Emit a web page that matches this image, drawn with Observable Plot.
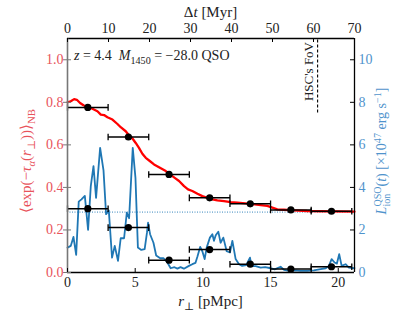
<!DOCTYPE html>
<html><head><meta charset="utf-8">
<script src="https://cdn.jsdelivr.net/npm/d3@7"></script>
<script src="https://cdn.jsdelivr.net/npm/@observablehq/plot@0.6"></script>
<style>body{margin:0;background:#fff} svg text{font-family:'Liberation Serif','DejaVu Serif',serif !important;}</style>
</head><body><div id="chart"></div>
<script>
const F = "'Liberation Serif', 'DejaVu Serif', serif";
// x: r_perp [pMpc]; top axis Δt [Myr]
const XMAX = 21.2, TMAX = 70;
const xTicks = [0, 5, 10, 15, 20];
const tTicks = [0, 10, 20, 30, 40, 50, 60, 70];
const yTicks = [0, 0.2, 0.4, 0.6, 0.8, 1.0];
const lTicks = [0, 2, 4, 6, 8, 10];

// red: transmission curve
const redR = [0,0.24,0.49,0.69,0.93,1.18,1.52,1.84,2.21,2.46,2.7,2.95,3.32,3.69,3.93,4.3,4.55,4.8,5.04,5.28,5.53,5.78,6.1,6.39,6.76,7.26,7.57,7.92,8.24,8.61,8.9,9.22,9.6,9.96,10.33,10.7,11.07,11.56,12.05,12.55,13.53,14.27,14.76,15.13,15.5,15.99,16.72,17.71,18.7,21.2];
const redV = [.80,.805,.815,.812,.797,.786,.776,.770,.758,.742,.740,.73,.719,.698,.683,.664,.644,.63,.609,.586,.558,.539,.523,.508,.495,.477,.461,.445,.43,.406,.391,.383,.37,.359,.351,.344,.339,.336,.331,.328,.323,.317,.313,.305,.297,.295,.292,.289,.288,.286];

// blue: QSO ionizing luminosity [1e47 erg/s]
const blueR = [0,0.24,0.44,0.64,0.83,1.03,1.28,1.52,1.72,1.92,2.11,2.41,2.66,2.85,3.05,3.29,3.49,3.73,3.93,4.18,4.38,4.55,4.82,5.02,5.2,5.45,5.7,5.87,5.95,6.1,6.35,6.55,6.85,7.1,7.38,7.62,7.9,8.12,8.35,8.6,8.97,9.22,9.45,9.6,9.8,9.96,10.13,10.28,10.52,10.7,10.82,10.95,11.14,11.31,11.51,11.76,12.0,12.18,12.42,12.67,12.9,13.2,13.48,13.6,13.9,14.27,14.6,15.0,15.3,15.74,16.0,16.35,16.8,17.2,17.71,18.2,18.7,19.07,19.31,19.51,19.73,19.9,20.07,20.25,20.54,20.79,21.2];
const blueL = [1.17,1.25,1.67,0.83,3.33,3.44,3.6,2.0,4.06,5.0,3.51,5.86,4.8,2.74,2.92,0.7,1.25,0.55,1.61,1.61,2.81,2.55,5.86,4.45,1.17,1.06,1.10,1.87,2.34,1.8,1.4,0.8,0.67,0.67,0.47,0.2,0.25,0.18,0.25,0.18,0.31,0.39,0.45,0.75,1.2,1.0,0.63,1.17,1.64,1.8,1.49,1.75,1.92,1.4,1.64,1.0,0.94,1.49,0.63,0.39,0.31,0.35,0.7,0.3,0.3,0.23,0.25,0.2,0.15,0.27,0.12,0.08,0.1,0.08,0.08,0.1,0.16,0.2,0.31,0.63,0.47,0.42,0.86,0.31,0.39,0.23,0.2];

// binned points
const binR = [1.5, 4.5, 7.5, 10.5, 13.5, 16.5, 19.5];
const binHalf = 1.5;
const binT = [0.776, 0.637, 0.461, 0.351, 0.323, 0.294, 0.288];
const binL = [3.0, 2.11, 0.58, 1.08, 0.39, 0.16, 0.27];

const meanT = 0.284;
const fovT = 61; // Myr
const fovTop = 1.1, fovBottom = 0.75;

const toR = t => t * XMAX / TMAX;
const red = redR.map((r, i) => ({r, v: redV[i]}));
const blue = blueR.map((r, i) => ({r, L: blueL[i] / 10}));
const pts = binR.map((r, i) => ({r, t: binT[i], L: binL[i] / 10}));
const ptsAll = pts.flatMap(d => [{r: d.r, y: d.t}, {r: d.r, y: d.L}]);
const caps = ptsAll.flatMap(d => [{r: d.r - binHalf, y: d.y}, {r: d.r + binHalf, y: d.y}]);
const capSym = {draw(ctx, size) { const h = Math.sqrt(size / Math.PI); ctx.moveTo(0, -h); ctx.lineTo(0, h); }};

const REDTXT = "#e8535b", BLUETXT = "#4f93cc";
const W = 394, H = 313, ML = 67, MR = 40, MT = 38, MB = 41;
const PW = W - ML - MR, PH = H - MT - MB;

const plot = Plot.plot({
  width: W, height: H, marginLeft: ML, marginRight: MR, marginTop: MT, marginBottom: MB,
  style: {fontFamily: F, fontSize: "13px", background: "#fff", overflow: "visible"},
  x: {domain: [0, XMAX]},
  y: {domain: [0, 1.1]},
  marks: [
    Plot.ruleY([meanT], {stroke: "#1f77b4", strokeDasharray: "1,1.5", strokeWidth: 0.9}),
    Plot.line(blue, {x: "r", y: "L", stroke: "#1f77b4", strokeWidth: 1.8}),
    Plot.line(red, {x: "r", y: "v", stroke: "#ff0000", strokeWidth: 2.3}),
    Plot.ruleX([toR(fovT)], {y1: fovBottom, y2: fovTop, stroke: "#000", strokeDasharray: "3,2", strokeWidth: 1.1}),
    Plot.link(ptsAll, {x1: d => Math.max(0, d.r - binHalf), x2: d => d.r + binHalf, y1: "y", y2: "y", stroke: "#000", strokeWidth: 1.5}),
    Plot.dot(caps, {x: "r", y: "y", r: 3.3, symbol: capSym, stroke: "#000", strokeWidth: 1.3, fill: "none"}),
    Plot.dot(ptsAll, {x: "r", y: "y", r: 3.6, fill: "#000"}),
    // frame
    Plot.ruleY([0, 1.1], {stroke: "#000", strokeWidth: 1.3}),
    Plot.ruleX([XMAX], {stroke: "#000", strokeWidth: 1.3}),
    Plot.ruleX([0], {stroke: "#777", strokeWidth: 1.6}),
    // inward ticks
    Plot.ruleY(yTicks, {insetRight: PW - 4, insetLeft: -4, stroke: "#777", strokeWidth: 1}),
    Plot.ruleY(lTicks.map(d => d / 10), {insetLeft: PW - 4, stroke: "#000", strokeWidth: 1}),
    Plot.ruleX(xTicks, {insetTop: PH - 4, stroke: "#000", strokeWidth: 1}),
    Plot.ruleX(tTicks.map(toR), {insetBottom: PH - 4, stroke: "#000", strokeWidth: 1}),
    // axis labels
    Plot.axisX({ticks: xTicks, tickSize: 0, tickPadding: 5, label: null, fontSize: 14, fill: "#222"}),
    Plot.axisX({anchor: "top", ticks: tTicks.map(toR), tickFormat: d => String(Math.round(d * TMAX / XMAX)), tickSize: 0, tickPadding: 6, label: null, fontSize: 14, fill: "#222"}),
    Plot.axisY({ticks: yTicks, tickFormat: d => d.toFixed(1), tickSize: 0, tickPadding: 4, label: null, color: REDTXT, fontSize: 14}),
    Plot.axisY({anchor: "right", ticks: lTicks.map(d => d / 10), tickFormat: d => String(Math.round(d * 10)), tickSize: 0, tickPadding: 4, label: null, color: BLUETXT, fontSize: 14})
  ]
});
document.getElementById("chart").appendChild(plot);

const svg = d3.select(plot);
function addText(x, y, parts, opt = {}) {
  const t = svg.append("text")
    .attr("font-family", F).attr("font-size", opt.size || 14)
    .attr("fill", opt.fill || "#222")
    .attr("text-anchor", opt.anchor || "middle")
    .attr("transform", `translate(${x},${y})` + (opt.rotate ? ` rotate(${opt.rotate})` : ""));
  let shift = 0;
  let lastW = 0;
  for (const p of parts) {
    const [s, st] = typeof p === "string" ? [p, ""] : p;
    const ts = t.append("tspan").text(s);
    let target = 0, fs = null;
    if (st.includes("sub")) { target = 3.5; fs = 0.72; }
    if (st.includes("sup")) { target = -5.5; fs = 0.72; }
    if (fs) ts.attr("font-size", (opt.size || 14) * fs);
    if (st.includes("i")) ts.attr("font-style", "italic");
    ts.attr("dy", target - shift);
    if (st.includes("back")) ts.attr("dx", -lastW);
    shift = target;
    lastW = ts.node().getComputedTextLength();
  }
  return t;
}

// top label
addText(ML + PW / 2, 17, ["Δ", ["t", "i"], " [Myr]"], {size: 15});
// bottom label
addText(ML + PW / 2, 306, [["r", "i"], ["⊥", "sub"], " [pMpc]"], {size: 15});
// left label
addText(31, MT + PH / 2 + 6, ["⟨exp(−", ["τ", "i"], ["α", "isub"], "(", ["r", "i"], ["⊥", "sub"], "))⟩", ["NB", "sub"]], {size: 15, rotate: -90, fill: REDTXT});
// right label
addText(386, MT + PH / 2 - 4, [["L", "i"], ["ion", "sub"], ["QSO", "sup back"], "(", ["t", "i"], ") [×10", ["47", "sup"], " erg s", ["−1", "sup"], "]"], {size: 14, rotate: -90, fill: BLUETXT});
// annotation
addText(74, 60, [["z", "i"], " = 4.4  ", ["M", "i"], ["1450", "sub"], " = −28.0 QSO"], {size: 14, anchor: "start"});
// HSC FoV
const xs = plot.scale("x");
addText(xs.apply(toR(fovT)) - 4, 42, ["HSC's FoV"], {size: 13, rotate: -90, anchor: "end"});
</script></body></html>
